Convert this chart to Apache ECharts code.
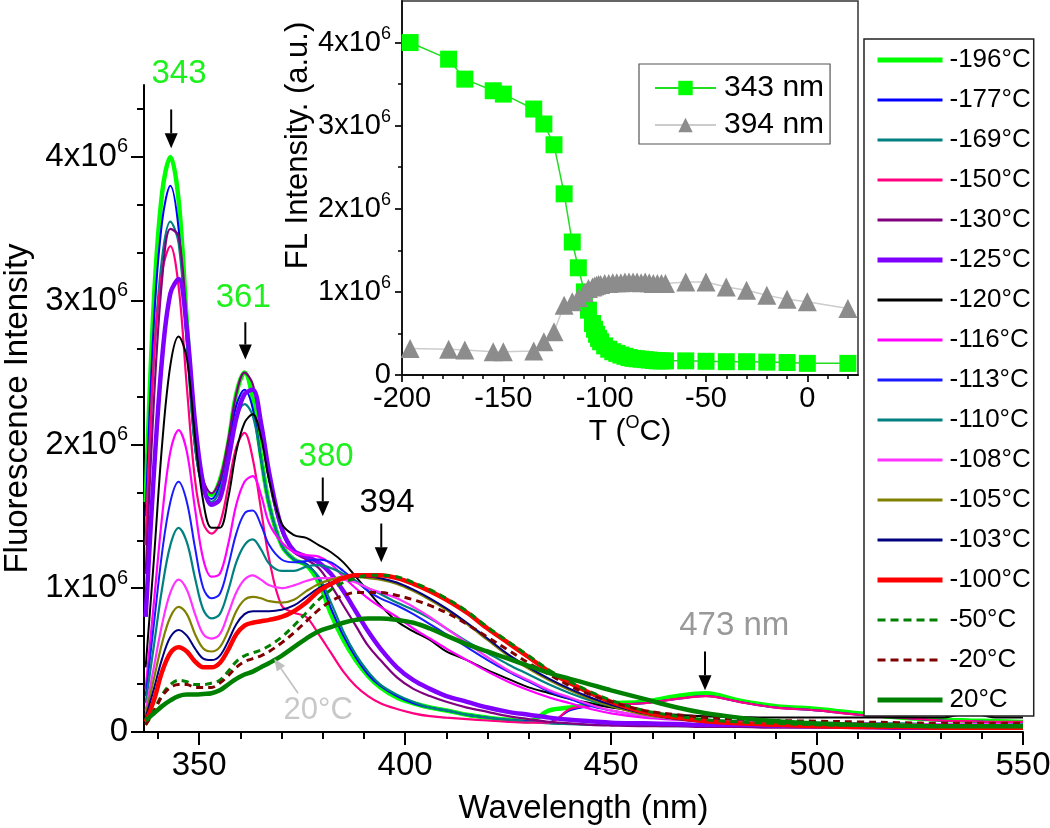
<!DOCTYPE html>
<html><head><meta charset="utf-8">
<script src="https://cdn.jsdelivr.net/npm/echarts@6/dist/echarts.min.js"></script>
<style>html,body{margin:0;padding:0;background:#fff}#c{width:1050px;height:828px}</style>
</head><body><div id="c"></div>
<script>
// ---------- DATA (intensity in units of 1x10^6) ----------
const wavelengths = [337,339,341,343,345,347,349,351,353, 355,357,359,361,363,365,367, 370,373,376,379,382,385,388,391,394, 398,402,406,410,415,420,425,430,435,440,445,450, 458,466,473,481,490,500,510,520,530,537,544,550];

const s_m196 = [1.6,3.0,3.75,4.0,3.7,2.85,2.05,1.72,1.65, 1.75,2.0,2.35,2.5,2.32,1.92,1.58, 1.3,1.2,1.16,1.04,0.82,0.64,0.5,0.39,0.31, 0.24,0.2,0.17,0.15,0.12,0.1,0.085,0.075,0.15,0.17,0.19,0.2, 0.21,0.25,0.27,0.22,0.18,0.16,0.13,0.1,0.085,0.08,0.075,0.07];
const s_m177 = [1.5,2.85,3.55,3.8,3.5,2.72,1.98,1.68,1.62, 1.72,1.97,2.27,2.38,2.25,1.9,1.58, 1.3,1.2,1.17,1.07,0.86,0.67,0.52,0.4,0.32, 0.25,0.2,0.17,0.15,0.12,0.1,0.085,0.075,0.07,0.15,0.18,0.19, 0.2,0.23,0.25,0.21,0.17,0.15,0.12,0.1,0.08,0.075,0.07,0.07];
const s_m169 = [1.3,2.6,3.3,3.55,3.4,2.7,1.98,1.68,1.6, 1.68,1.92,2.18,2.28,2.2,1.9,1.58, 1.3,1.2,1.16,1.08,0.9,0.7,0.54,0.42,0.33, 0.26,0.21,0.17,0.15,0.12,0.1,0.085,0.07,0.06,0.055,0.05,0.05, 0.045,0.04,0.04,0.04,0.035,0.035,0.03,0.03,0.03,0.03,0.03,0.03];
const s_m150 = [1.3,2.6,3.2,3.38,3.1,2.4,1.75,1.45,1.38, 1.45,1.7,1.98,2.08,1.9,1.55,1.2, 0.88,0.83,0.8,0.68,0.55,0.42,0.32,0.25,0.2, 0.16,0.13,0.11,0.1,0.09,0.08,0.07,0.065,0.065,0.16,0.18,0.19, 0.2,0.23,0.25,0.21,0.17,0.15,0.12,0.1,0.08,0.075,0.07,0.07];
const s_m130 = [1.1,2.3,3.15,3.5,3.45,2.85,2.1,1.75,1.66, 1.75,2.02,2.35,2.5,2.42,2.1,1.75, 1.4,1.25,1.2,1.14,1.02,0.88,0.74,0.6,0.5, 0.38,0.3,0.25,0.21,0.17,0.14,0.11,0.09,0.07,0.06,0.05,0.045, 0.04,0.04,0.035,0.035,0.03,0.03,0.03,0.03,0.03,0.03,0.03,0.03];
const s_m125 = [0.8,1.8,2.6,3.05,3.15,2.8,2.15,1.72,1.58, 1.62,1.88,2.18,2.35,2.38,2.15,1.8, 1.42,1.26,1.22,1.18,1.1,0.98,0.84,0.7,0.58, 0.45,0.36,0.3,0.25,0.21,0.17,0.14,0.12,0.1,0.085,0.075,0.065, 0.06,0.055,0.05,0.05,0.045,0.04,0.035,0.03,0.03,0.03,0.03,0.03];
const s_m120 = [0.45,1.2,2.0,2.55,2.75,2.6,2.05,1.6,1.42, 1.42,1.62,1.95,2.15,2.21,2.05,1.75, 1.45,1.37,1.35,1.3,1.25,1.18,1.08,0.98,0.88, 0.77,0.7,0.64,0.56,0.5,0.43,0.37,0.31,0.27,0.23,0.2,0.17, 0.14,0.12,0.11,0.105,0.1,0.1,0.1,0.1,0.1,0.13,0.1,0.1];
const s_m116 = [0.3,0.9,1.5,1.95,2.1,1.95,1.55,1.2,1.08, 1.1,1.3,1.58,1.74,1.78,1.65,1.45, 1.32,1.25,1.23,1.22,1.17,1.08,1.0,0.93,0.87, 0.8,0.72,0.65,0.58,0.5,0.42,0.35,0.29,0.24,0.2,0.16,0.13, 0.1,0.085,0.075,0.07,0.065,0.06,0.06,0.055,0.055,0.055,0.055,0.055];
const s_m113 = [0.25,0.75,1.25,1.6,1.74,1.6,1.28,1.0,0.93, 0.96,1.15,1.38,1.52,1.54,1.44,1.3, 1.2,1.18,1.19,1.2,1.18,1.12,1.05,0.98,0.93, 0.88,0.82,0.75,0.68,0.59,0.5,0.42,0.35,0.28,0.23,0.18,0.15, 0.11,0.09,0.08,0.07,0.065,0.06,0.055,0.055,0.05,0.05,0.05,0.05];
const s_m110 = [0.2,0.6,1.0,1.3,1.42,1.32,1.07,0.85,0.79, 0.82,0.98,1.18,1.3,1.34,1.27,1.17, 1.12,1.12,1.15,1.16,1.14,1.1,1.05,1.0,0.96, 0.9,0.85,0.79,0.72,0.63,0.55,0.47,0.4,0.33,0.27,0.22,0.18, 0.13,0.1,0.085,0.075,0.07,0.065,0.06,0.06,0.055,0.055,0.055,0.055];
const s_m108 = [0.15,0.45,0.75,0.97,1.06,0.99,0.82,0.68,0.65, 0.68,0.82,0.97,1.06,1.09,1.06,1.02, 1.0,1.02,1.05,1.07,1.07,1.06,1.04,1.0,0.97, 0.93,0.87,0.8,0.72,0.62,0.52,0.43,0.36,0.29,0.24,0.19,0.15, 0.11,0.09,0.08,0.07,0.065,0.06,0.06,0.055,0.055,0.055,0.055,0.05];
const s_m105 = [0.12,0.37,0.62,0.8,0.87,0.82,0.68,0.58,0.56, 0.59,0.7,0.84,0.92,0.94,0.93,0.91, 0.9,0.92,0.98,1.03,1.06,1.08,1.08,1.07,1.06, 1.03,0.98,0.92,0.85,0.75,0.64,0.53,0.44,0.36,0.29,0.23,0.18, 0.12,0.09,0.07,0.06,0.05,0.045,0.04,0.04,0.04,0.04,0.04,0.04];
const s_m103 = [0.1,0.3,0.51,0.66,0.71,0.67,0.58,0.51,0.5, 0.53,0.63,0.75,0.82,0.84,0.84,0.84, 0.85,0.88,0.94,1.0,1.04,1.07,1.08,1.08,1.07, 1.04,0.99,0.93,0.86,0.76,0.65,0.54,0.45,0.37,0.3,0.24,0.19, 0.13,0.09,0.07,0.06,0.05,0.045,0.04,0.04,0.04,0.04,0.04,0.04];
const s_m100 = [0.07,0.22,0.42,0.55,0.59,0.56,0.49,0.45,0.45, 0.48,0.57,0.68,0.74,0.76,0.77,0.78, 0.8,0.84,0.9,0.98,1.03,1.07,1.09,1.09,1.09, 1.07,1.03,0.98,0.92,0.83,0.72,0.62,0.52,0.42,0.34,0.27,0.21, 0.14,0.1,0.075,0.06,0.05,0.04,0.035,0.035,0.03,0.03,0.03,0.03];
const s_m50 = [0.05,0.15,0.26,0.33,0.36,0.35,0.33,0.33,0.34, 0.36,0.42,0.49,0.53,0.55,0.57,0.6, 0.66,0.74,0.83,0.92,0.99,1.04,1.07,1.09,1.09, 1.08,1.04,0.99,0.93,0.84,0.73,0.63,0.53,0.43,0.35,0.28,0.22, 0.15,0.11,0.085,0.07,0.06,0.05,0.045,0.04,0.04,0.04,0.04,0.04];
const s_m20 = [0.05,0.14,0.25,0.31,0.33,0.33,0.31,0.31,0.31, 0.34,0.39,0.45,0.49,0.51,0.53,0.56, 0.62,0.69,0.77,0.85,0.91,0.95,0.97,0.97,0.97, 0.95,0.92,0.88,0.83,0.75,0.66,0.57,0.48,0.4,0.32,0.26,0.21, 0.15,0.12,0.1,0.09,0.08,0.075,0.07,0.065,0.06,0.06,0.06,0.06];
const s_p20 = [0.08,0.13,0.18,0.22,0.25,0.26,0.26,0.265,0.27, 0.29,0.33,0.37,0.4,0.42,0.45,0.48, 0.53,0.59,0.65,0.7,0.73,0.76,0.78,0.79,0.79, 0.78,0.76,0.72,0.67,0.61,0.56,0.51,0.46,0.41,0.37,0.33,0.29, 0.23,0.17,0.13,0.1,0.075,0.06,0.05,0.045,0.04,0.04,0.04,0.04];

const seriesNames = ['-196°C','-177°C','-169°C','-150°C','-130°C','-125°C','-120°C','-116°C','-113°C','-110°C','-108°C','-105°C','-103°C','-100°C','-50°C','-20°C','20°C'];
const seriesValues = [s_m196,s_m177,s_m169,s_m150,s_m130,s_m125,s_m120,s_m116,s_m113,s_m110,s_m108,s_m105,s_m103,s_m100,s_m50,s_m20,s_p20];

// inset: intensity vs temperature
const insetT = [-196,-177,-169,-155,-150,-135,-130,-125,-120,-116,-113,-110,-108,-106,-105,-104,-103,-102,-100,-98,-96,-94,-92,-90,-88,-86,-84,-82,-80,-78,-76,-74,-72,-70,-60,-50,-40,-30,-20,-10,0,20];
const inset343 = [4.0,3.8,3.56,3.42,3.38,3.2,3.02,2.77,2.18,1.6,1.29,1.0,0.78,0.62,0.55,0.49,0.44,0.4,0.35,0.31,0.28,0.26,0.24,0.225,0.21,0.2,0.195,0.19,0.185,0.18,0.175,0.17,0.17,0.17,0.17,0.165,0.16,0.16,0.155,0.15,0.14,0.14];
const inset394 = [0.32,0.31,0.3,0.28,0.28,0.29,0.4,0.52,0.84,0.88,0.93,0.99,1.04,1.06,1.07,1.08,1.09,1.09,1.1,1.1,1.11,1.11,1.11,1.12,1.12,1.12,1.12,1.11,1.12,1.11,1.1,1.1,1.1,1.1,1.12,1.12,1.06,1.02,0.96,0.91,0.88,0.8];

// ticks
const xMajor = [350,400,450,500,550];
const xMinor = [340,360,370,380,390,410,420,430,440,460,470,480,490,510,520,530,540];
const yMajor = [0,1,2,3,4];
const yMinor = [1/3,2/3,4/3,5/3,7/3,8/3,10/3,11/3,13/3];
const insXMajor = [-200,-150,-100,-50,0];
const insXMinor = [-190,-180,-170,-160,-140,-130,-120,-110,-90,-80,-70,-60,-40,-30,-20,-10,10,20];
const insYMajor = [0,1,2,3,4];
const insYMinor = [0.5,1.5,2.5,3.5];

// annotations (data coordinates of main plot)
const annTexts = [
  {text:'343', at:[345.1,4.58], color:'#1EF01E', size:33},
  {text:'361', at:[360.7,3.02], color:'#1EF01E', size:33},
  {text:'380', at:[380.8,1.91], color:'#1EF01E', size:33},
  {text:'394', at:[395.6,1.59], color:'#000000', size:33},
  {text:'473 nm', at:[479.9,0.74], color:'#999999', size:33},
  {text:'20°C', at:[378.9,0.15], color:'#C8C8C8', size:31}
];
const annArrows = [
  {from:[343.2,4.33], to:[343.2,4.06], color:'#000'},
  {from:[361.2,2.85], to:[361.2,2.59], color:'#000'},
  {from:[380.0,1.77], to:[380.0,1.50], color:'#000'},
  {from:[394.2,1.45], to:[394.2,1.18], color:'#000'},
  {from:[472.8,0.56], to:[472.8,0.29], color:'#000'},
  {from:[374.0,0.27], to:[368.2,0.51], color:'#C0C0C0', thin:true}
];

// ---------- STYLES ----------
const F = '"Liberation Sans", Arial, Helvetica, sans-serif';
const lineStyles = [
  {c:'#00FF00',w:4.5},{c:'#0000FF',w:2},{c:'#008080',w:2.2},{c:'#FF0080',w:2.2},
  {c:'#800080',w:2.2},{c:'#8000FF',w:4.5},{c:'#000000',w:2},{c:'#FF00FF',w:2.2},
  {c:'#1A1AFF',w:2},{c:'#008080',w:2.2},{c:'#FF33FF',w:2.2},{c:'#808000',w:2.2},
  {c:'#000080',w:2},{c:'#FF0000',w:4.5},{c:'#008000',w:3,t:[7,5]},{c:'#800000',w:3,t:[7,5]},
  {c:'#008000',w:4.5}
];

const chart = echarts.init(document.getElementById('c'), null, {renderer:'canvas'});

function supLabel(size, supSize, lh) {
  return {
    formatter: v => v === 0 ? '{a|0}' : '{a|' + v + 'x10}{b|6}',
    rich: {
      a: {fontSize:size, fontFamily:F, color:'#000', lineHeight:lh},
      b: {fontSize:supSize, fontFamily:F, color:'#000', verticalAlign:'top', lineHeight:supSize+2}
    }
  };
}
function minorAxis(gridIndex, min, max, vals, len, lw, pos) {
  return {type:'value', gridIndex, min, max, position:pos,
    axisLine:{show:false,onZero:false}, splitLine:{show:false},
    axisLabel:{show:false},
    axisTick:{show:true,length:len,lineStyle:{color:'#000',width:lw},customValues:vals}};
}

const mainSeries = seriesNames.map((n,i) => ({
  type:'line', name:n, xAxisIndex:0, yAxisIndex:0,
  data: wavelengths.map((w,j) => [w, seriesValues[i][j]]),
  symbol:'none', smooth:0.35, clip:true,
  lineStyle:{color:lineStyles[i].c, width:lineStyles[i].w, type:lineStyles[i].t || 'solid'},
  itemStyle:{color:lineStyles[i].c},
  emphasis:{disabled:true}, z:2
}));

const legendItems = seriesNames.map((n,i) => ({
  name:n,
  itemStyle:{opacity:0},
  lineStyle:{color:lineStyles[i].c, width:lineStyles[i].w >= 4 ? 5 : 3, type:lineStyles[i].t ? [8,5] : 'solid', opacity:1}
}));

const option = {
  animation:false,
  backgroundColor:'#fff',
  grid:[
    {left:144, top:85, width:879, height:647, show:false, outerBoundsMode:'none', containLabel:false},
    {left:402, top:1, width:456, height:374, show:true, backgroundColor:'#fff', borderColor:'#333', borderWidth:1.5, outerBoundsMode:'none', containLabel:false}
  ],
  xAxis:[
    {type:'value', gridIndex:0, position:'bottom', min:336.6, max:550,
     axisLine:{show:true,onZero:false,lineStyle:{color:'#000',width:2}},
     axisTick:{show:true,length:13,lineStyle:{color:'#000',width:2},customValues:xMajor},
     axisLabel:{show:true,margin:17,color:'#000',fontSize:33,fontFamily:F,customValues:xMajor},
     splitLine:{show:false},
     name:'Wavelength (nm)', nameLocation:'middle', nameGap:60,
     nameTextStyle:{color:'#000',fontSize:33,fontFamily:F}},
    minorAxis(0,336.6,550,xMinor,7,2,'bottom'),
    {type:'value', gridIndex:1, position:'bottom', min:-200, max:25,
     axisLine:{show:true,onZero:false,lineStyle:{color:'#111',width:1.8}},
     axisTick:{show:true,length:7,lineStyle:{color:'#111',width:1.8},customValues:insXMajor},
     axisLabel:{show:true,margin:9,color:'#000',fontSize:29,fontFamily:F,customValues:insXMajor},
     splitLine:{show:false},
     name:'{t|T (}{s|O}{t|C)}', nameLocation:'middle', nameGap:27,
     nameTextStyle:{rich:{t:{fontSize:30,fontFamily:F,color:'#000',lineHeight:36},s:{fontSize:18,fontFamily:F,color:'#000',verticalAlign:'top',lineHeight:20}}}},
    minorAxis(1,-200,25,insXMinor,4,1.5,'bottom')
  ],
  yAxis:[
    Object.assign({type:'value', gridIndex:0, position:'left', min:0, max:4.5,
     axisLine:{show:true,onZero:false,lineStyle:{color:'#000',width:2}},
     axisTick:{show:true,length:13,lineStyle:{color:'#000',width:2},customValues:yMajor},
     splitLine:{show:false},
     name:'Fluorescence Intensity', nameLocation:'middle', nameGap:110,
     nameTextStyle:{color:'#000',fontSize:33,fontFamily:F}},
     {axisLabel:Object.assign({show:true,margin:16,customValues:yMajor}, supLabel(33,20,40))}),
    minorAxis(0,0,4.5,yMinor,7,2,'left'),
    Object.assign({type:'value', gridIndex:1, position:'left', min:0, max:4.5,
     axisLine:{show:true,onZero:false,lineStyle:{color:'#111',width:1.8}},
     axisTick:{show:true,length:7,lineStyle:{color:'#111',width:1.8},customValues:insYMajor},
     splitLine:{show:false},
     name:'FL Intensity. (a.u.)', nameLocation:'middle', nameGap:87,
     nameTextStyle:{color:'#000',fontSize:31,fontFamily:F,padding:[0,0,0,85]}},
     {axisLabel:Object.assign({show:true,margin:11,customValues:insYMajor}, supLabel(29,18,36))}),
    minorAxis(1,0,4.5,insYMinor,4,1.5,'left')
  ],
  legend:[
    {data:legendItems, orient:'vertical', left:864, top:39, itemWidth:65, itemHeight:14, itemGap:10,
     padding:[6,3,1,11], borderColor:'#222', borderWidth:1.5, backgroundColor:'#fff',
     selectedMode:false, z:20,
     textStyle:{fontSize:26, lineHeight:30, fontFamily:F, color:'#000', padding:[0,0,0,2]}},
    {data:['343 nm','394 nm'], orient:'vertical', left:639, top:64, itemWidth:61, itemHeight:18, itemGap:7,
     padding:[9,6,4,15], borderColor:'#555', borderWidth:1.2, backgroundColor:'#fff',
     selectedMode:false, z:20,
     textStyle:{fontSize:30, lineHeight:30, fontFamily:F, color:'#000', padding:[0,0,0,3]}}
  ],
  series: mainSeries.concat([
    {type:'line', name:'343 nm', xAxisIndex:2, yAxisIndex:2,
     data: insetT.map((t,i)=>[t, inset343[i]]),
     symbol:'rect', symbolSize:17, showSymbol:true,
     lineStyle:{color:'#22DD22', width:1.5}, itemStyle:{color:'#00FF00'},
     emphasis:{disabled:true}, z:5},
    {type:'line', name:'394 nm', xAxisIndex:2, yAxisIndex:2,
     data: insetT.map((t,i)=>[t, inset394[i]]),
     symbol:'triangle', symbolSize:19, showSymbol:true,
     lineStyle:{color:'#CCCCCC', width:1.5}, itemStyle:{color:'#8C8C8C'},
     emphasis:{disabled:true}, z:5}
  ])
};
chart.setOption(option);

// annotations placed through the main plot's scales
const toPx = p => chart.convertToPixel({xAxisIndex:0, yAxisIndex:0}, p);
const gfx = [];
annTexts.forEach(a => {
  const p = toPx(a.at);
  gfx.push({type:'text', x:p[0], y:p[1], z:100,
    style:{text:a.text, fill:a.color, fontSize:a.size, fontFamily:F, align:'center', verticalAlign:'middle'}});
});
annArrows.forEach(a => {
  const p0 = toPx(a.from), p1 = toPx(a.to);
  const hl = a.thin ? 12 : 15, hw = a.thin ? 5 : 6.5, lw = a.thin ? 1.6 : 2;
  const dx = p1[0]-p0[0], dy = p1[1]-p0[1], L = Math.hypot(dx,dy), ux = dx/L, uy = dy/L;
  const bx = p1[0]-ux*hl, by = p1[1]-uy*hl;
  gfx.push({type:'line', z:100, shape:{x1:p0[0],y1:p0[1],x2:bx,y2:by}, style:{stroke:a.color, lineWidth:lw}});
  gfx.push({type:'polygon', z:100, shape:{points:[[p1[0],p1[1]],[bx-uy*hw,by+ux*hw],[bx+uy*hw,by-ux*hw]]}, style:{fill:a.color}});
});
chart.setOption({graphic: gfx});
</script>
</body></html>
